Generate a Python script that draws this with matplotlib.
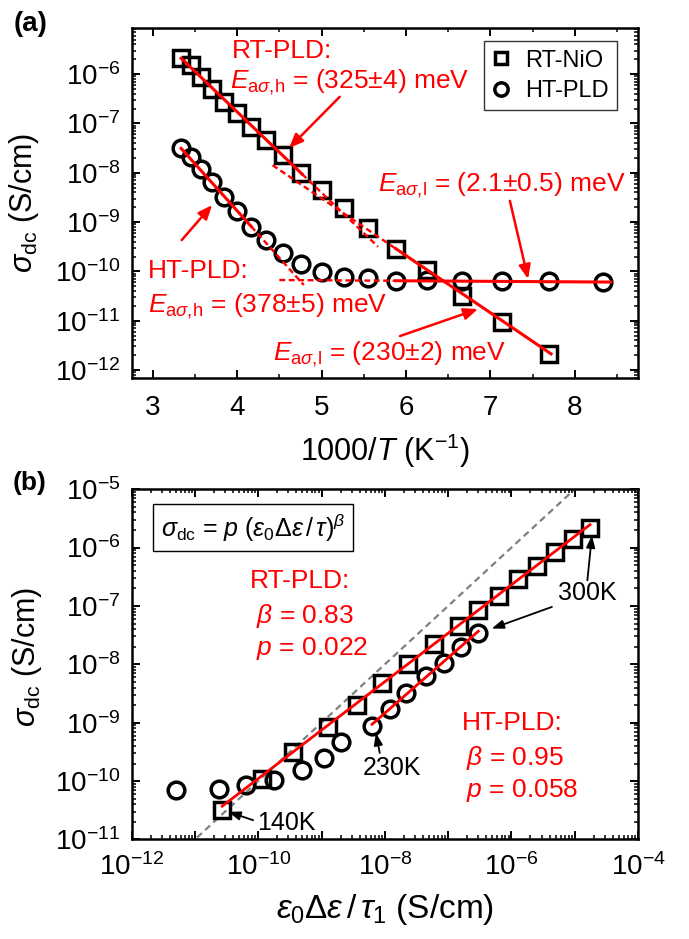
import numpy as np
import matplotlib
matplotlib.use("Agg")
import matplotlib.pyplot as plt
from matplotlib.ticker import LogLocator, FuncFormatter, MultipleLocator

plt.rcParams['font.family'] = 'Liberation Sans'
plt.rcParams['mathtext.fontset'] = 'custom'
plt.rcParams['mathtext.rm'] = 'Liberation Sans'
plt.rcParams['mathtext.it'] = 'Liberation Sans:italic'
plt.rcParams['mathtext.bf'] = 'Liberation Sans:bold'

RED = '#ff0000'

# ---- (a) Arrhenius data ----
temp_rt = [300, 290, 280, 270, 260, 250, 240, 230, 220, 210, 200, 190, 180, 170, 160, 150, 140, 130]
sigma_rt = [2.1e-6, 1.5e-6, 8.7e-7, 5.0e-7, 2.7e-7, 1.6e-7, 8.5e-8, 4.6e-8, 2.3e-8, 1.0e-8,
            4.4e-9, 1.9e-9, 7.6e-10, 2.9e-10, 1.05e-10, 3.2e-11, 9.3e-12, 2.1e-12]
temp_ht = [300, 290, 280, 270, 260, 250, 240, 230, 220, 210, 200, 190, 180, 170, 160, 150, 140, 130, 120]
sigma_ht = [3.2e-8, 2.1e-8, 1.2e-8, 6.5e-9, 3.2e-9, 1.7e-9, 7.9e-10, 4.3e-10, 2.4e-10, 1.4e-10,
            9.5e-11, 7.6e-11, 7.2e-11, 6.5e-11, 6.6e-11, 6.3e-11, 6.3e-11, 6.3e-11, 6.0e-11]

# Arrhenius fits: activation energy (meV), prefactor (S/cm), solid and dashed ranges in 1000/T
fit_ea = [325, 230, 378, 2.1]
fit_sigma0 = [0.611, 1.89e-3, 0.0708, 7.45e-11]
fit_solid = [(3.337, 4.77), (5.88, 7.72), (3.337, 4.167), (5.88, 8.43)]
fit_dash = [(4.77, 5.67), (4.42, 5.88), (4.167, 4.79), (4.50, 5.88)]

kB = 8.617e-2  # meV/K

# ---- (b) scaling data ----
rt_x = [2.7e-11, 1.15e-10, 3.6e-10, 1.26e-9, 3.6e-9, 8.9e-9, 2.3e-8, 6.0e-8, 1.48e-7, 3.0e-7,
        6.3e-7, 1.29e-6, 2.5e-6, 4.9e-6, 9.5e-6, 1.74e-5]
rt_y = [3.2e-11, 1.1e-10, 3.1e-10, 8.3e-10, 2.0e-9, 4.7e-9, 1.02e-8, 2.2e-8, 4.6e-8, 8.5e-8,
        1.5e-7, 2.9e-7, 4.9e-7, 8.3e-7, 1.38e-6, 2.2e-6]
ht_x = [5.1e-12, 2.4e-11, 6.5e-11, 1.8e-10, 5.0e-10, 1.1e-9, 2.0e-9, 6.3e-9, 1.2e-8, 2.2e-8,
        4.4e-8, 8.5e-8, 1.6e-7, 3.0e-7]
ht_y = [6.9e-11, 7.4e-11, 8.5e-11, 1.05e-10, 1.55e-10, 2.5e-10, 4.7e-10, 8.7e-10, 1.7e-9, 3.2e-9,
        6.2e-9, 1.07e-8, 1.95e-8, 3.4e-8]

beta_fit = [0.83, 0.95]
p_fit = [0.022, 0.058]
fit_range_b = [(2.7e-11, 1.74e-5), (6.3e-9, 3.0e-7)]


def arrhenius(x, ea, s0):
    return s0 * np.exp(-ea * x / (kB * 1000))


def decade_label(v, pos):
    return r'$10^{%d}$' % int(round(np.log10(v)))


def even_decade_label(v, pos):
    e = int(round(np.log10(v)))
    return r'$10^{%d}$' % e if e % 2 == 0 else ''


def style_axes(ax):
    for s in ax.spines.values():
        s.set_linewidth(1.8)
    ax.tick_params(which='both', direction='in', top=True, right=True)
    ax.tick_params(which='major', length=6, width=1.4, labelsize=20)
    ax.tick_params(which='minor', length=3, width=1.1)


fig = plt.figure(figsize=(6.89, 9.39), dpi=100)

# ================= (a) =================
ax1 = fig.add_axes([0.191, 0.597, 0.735, 0.373])
ax1.set_yscale('log')

x_rt = 1000 / np.array(temp_rt)
x_ht = 1000 / np.array(temp_ht)

ax1.plot(x_rt, sigma_rt, 's', ms=11, mew=2.5, mec='k', mfc='none', label='RT-NiO', zorder=3)
ax1.plot(x_ht, sigma_ht, 'o', ms=12, mew=2.5, mec='k', mfc='none', label='HT-PLD', zorder=3)

for ea, s0, (a, b), (c, d) in zip(fit_ea, fit_sigma0, fit_solid, fit_dash):
    xs = np.linspace(a, b, 50)
    ax1.plot(xs, arrhenius(xs, ea, s0), '-', color=RED, lw=2.2, zorder=4)
    xd = np.linspace(c, d, 50)
    ax1.plot(xd, arrhenius(xd, ea, s0), color=RED, lw=1.7, dashes=(2.5, 1.5), zorder=4)

ax1.set_xlim(2.75, 8.75)
ax1.set_ylim(10 ** -12.17, 10 ** -5.07)
ax1.xaxis.set_major_locator(MultipleLocator(1))
ax1.xaxis.set_minor_locator(MultipleLocator(0.5))
ax1.yaxis.set_major_locator(LogLocator(base=10, numticks=20))
ax1.yaxis.set_minor_locator(LogLocator(base=10, subs=np.arange(2, 10), numticks=20))
ax1.yaxis.set_major_formatter(FuncFormatter(decade_label))
style_axes(ax1)
ax1.tick_params(axis='x', which='major', pad=12)
ax1.tick_params(axis='y', which='major', pad=8)

ax1.set_xlabel(r'1000/$T$ (K$^{-1}$)', fontsize=22, labelpad=8)
ax1.set_ylabel(r'$\sigma_{\mathrm{dc}}$ (S/cm)', fontsize=22)
ax1.yaxis.set_label_coords(-0.178, 0.5)

leg = ax1.legend(loc='upper right', bbox_to_anchor=(0.958, 0.962), borderaxespad=0,
                 fontsize=17, frameon=True, fancybox=False, handlelength=0.8,
                 handletextpad=0.6, markerscale=0.8, borderpad=0.35, labelspacing=0.35)
leg.get_frame().set_edgecolor('k')
leg.get_frame().set_linewidth(1.0)

tkw = dict(transform=ax1.transAxes, color=RED, fontsize=19, va='baseline', ha='left')
ax1.text(0.198, 0.914, 'RT-PLD:', **tkw)
ax1.text(0.194, 0.829, r'$E_{\mathrm{a}\sigma{,}\mathrm{h}}$ = (325±4) meV', **tkw)
ax1.text(0.486, 0.533, r'$E_{\mathrm{a}\sigma{,}\mathrm{l}}$ = (2.1±0.5) meV', **tkw)
ax1.text(0.032, 0.287, 'HT-PLD:', **tkw)
ax1.text(0.032, 0.190, r'$E_{\mathrm{a}\sigma{,}\mathrm{h}}$ = (378±5) meV', **tkw)
ax1.text(0.279, 0.052, r'$E_{\mathrm{a}\sigma{,}\mathrm{l}}$ = (230±2) meV', **tkw)

red_arrow = dict(arrowstyle='-|>,head_length=0.6,head_width=0.25', color=RED, lw=1.8,
                 mutation_scale=14, shrinkA=0, shrinkB=0)
for tail, head in [((0.411, 0.804), (0.311, 0.658)),
                   ((0.747, 0.507), (0.783, 0.284)),
                   ((0.099, 0.395), (0.159, 0.495)),
                   ((0.530, 0.121), (0.684, 0.198))]:
    ax1.annotate('', xy=head, xytext=tail, xycoords='axes fraction',
                 textcoords='axes fraction', arrowprops=red_arrow, zorder=5)

fig.text(0.02, 1 - 24 / 939, '(a)', fontsize=20, fontweight='bold', va='center', ha='left')

# ================= (b) =================
ax2 = fig.add_axes([0.191, 0.106, 0.735, 0.373])
ax2.set_xscale('log')
ax2.set_yscale('log')

ax2.plot([1e-12, 1e-4], [1e-12, 1e-4], color='#808080', lw=1.6, dashes=(3, 2), zorder=2)
ax2.plot(rt_x, rt_y, 's', ms=11, mew=2.5, mec='k', mfc='none', zorder=3)
ax2.plot(ht_x, ht_y, 'o', ms=12, mew=2.5, mec='k', mfc='none', zorder=3)
for beta, p, (a, b) in zip(beta_fit, p_fit, fit_range_b):
    xs = np.logspace(np.log10(a), np.log10(b), 50)
    ax2.plot(xs, p * xs ** beta, '-', color=RED, lw=2.0, zorder=4)

ax2.set_xlim(1e-12, 1e-4)
ax2.set_ylim(1e-11, 1e-5)
ax2.xaxis.set_major_locator(LogLocator(base=10, numticks=20))
ax2.xaxis.set_minor_locator(LogLocator(base=10, subs=np.arange(2, 10), numticks=20))
ax2.xaxis.set_major_formatter(FuncFormatter(even_decade_label))
ax2.yaxis.set_major_locator(LogLocator(base=10, numticks=20))
ax2.yaxis.set_minor_locator(LogLocator(base=10, subs=np.arange(2, 10), numticks=20))
ax2.yaxis.set_major_formatter(FuncFormatter(decade_label))
style_axes(ax2)
ax2.tick_params(axis='x', which='major', pad=10)
ax2.tick_params(axis='y', which='major', pad=8)

ax2.set_xlabel(r'$\varepsilon_0\mathit{\Delta}\varepsilon\,/\,\tau_1$ (S/cm)', fontsize=24, labelpad=8)
ax2.set_ylabel(r'$\sigma_{\mathrm{dc}}$ (S/cm)', fontsize=22)
ax2.yaxis.set_label_coords(-0.172, 0.52)

ax2.text(0.058, 0.864, r'$\sigma_{\mathrm{dc}}$ = $p$ ($\varepsilon_0\mathit{\Delta}\varepsilon\,/\,\tau)^{\beta}$',
         transform=ax2.transAxes, fontsize=18, va='baseline', ha='left',
         bbox=dict(boxstyle='square,pad=0.3', fc='white', ec='k', lw=1.0))

rkw = dict(transform=ax2.transAxes, color=RED, fontsize=19, va='baseline', ha='left')
ax2.text(0.234, 0.717, 'RT-PLD:', **rkw)
ax2.text(0.246, 0.617, r'$\beta$ = 0.83', **rkw)
ax2.text(0.246, 0.526, r'$p$ = 0.022', **rkw)
ax2.text(0.652, 0.312, 'HT-PLD:', **rkw)
ax2.text(0.660, 0.212, r'$\beta$ = 0.95', **rkw)
ax2.text(0.660, 0.122, r'$p$ = 0.058', **rkw)

kkw = dict(transform=ax2.transAxes, color='k', fontsize=18, va='baseline', ha='left')
ax2.text(0.842, 0.683, '300K', **kkw)
ax2.text(0.457, 0.184, '230K', **kkw)
ax2.text(0.247, 0.027, '140K', **kkw)

black_arrow = dict(arrowstyle='-|>,head_length=0.6,head_width=0.22', color='k', lw=1.3,
                   mutation_scale=12, shrinkA=0, shrinkB=0)
for tail, head in [((0.900, 0.740), (0.909, 0.868)),
                   ((0.830, 0.664), (0.711, 0.602)),
                   ((0.490, 0.247), (0.4825, 0.304)),
                   ((0.240, 0.055), (0.191, 0.079))]:
    ax2.annotate('', xy=head, xytext=tail, xycoords='axes fraction',
                 textcoords='axes fraction', arrowprops=black_arrow, zorder=5)

fig.text(0.018, 1 - 483 / 939, '(b)', fontsize=19, fontweight='bold', va='center', ha='left')

fig.savefig('out.png', dpi=100)
